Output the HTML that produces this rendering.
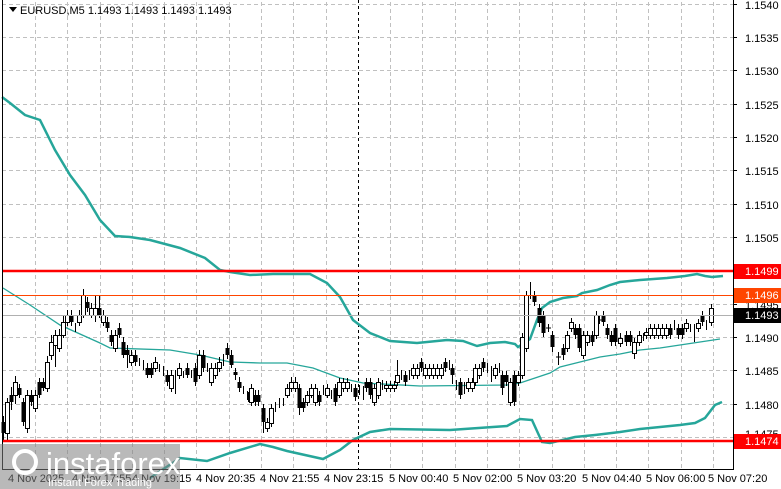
<!DOCTYPE html>
<html><head><meta charset="utf-8"><style>
body{margin:0;width:781px;height:489px;background:#fff;overflow:hidden;font-family:"Liberation Sans",sans-serif}
svg{position:absolute;left:0;top:0}
</style></head><body>
<svg width="781" height="489" xmlns="http://www.w3.org/2000/svg" font-family="Liberation Sans, sans-serif" font-size="11">
<g stroke="#c0c0c0" stroke-dasharray="4,3" stroke-width="1">
<path d="M2,4.5H733M2,37.5H733M2,70.5H733M2,104.5H733M2,137.5H733M2,170.5H733M2,204.5H733M2,237.5H733M2,270.5H733M2,304.5H733M2,337.5H733M2,370.5H733M2,404.5H733M2,437.5H733"/>
<path d="M35.5,2V469M67.5,2V469M100.5,2V469M132.5,2V469M164.5,2V469M196.5,2V469M229.5,2V469M261.5,2V469M293.5,2V469M326.5,2V469M390.5,2V469M422.5,2V469M455.5,2V469M487.5,2V469M519.5,2V469M552.5,2V469M584.5,2V469M616.5,2V469M648.5,2V469M681.5,2V469M713.5,2V469"/>
</g>
<line x1="358.5" y1="0" x2="358.5" y2="469" stroke="#000" stroke-dasharray="3,3"/>
<polyline fill="none" stroke="#26a69a" stroke-width="2.5" points="2,97 10,103 25,115 40,120 55,150 70,175 85,195 100,220 115,236 130,237 150,240 180,248 205,258 220,270 230,272 250,275 273,274 310,274 327,283 340,297 353,320 370,333 390,341 417,343 447,340 463,341 477,346 490,343 505,342 515,344 518,347 530,339 537,320 542,308 550,302 563,298 577,296 582,293 597,290 610,285 620,282 640,280 667,278 685,276 697,274 705,276 712,277 723,276"/>
<polyline fill="none" stroke="#26a69a" stroke-width="1.3" points="3,288 30,305 60,325 100,343 110,348 170,350 200,355 230,362 260,363 287,363 313,368 340,378 363,383 420,386 507,385 520,383 550,373 560,367 580,362 600,357 620,354 640,350 660,348 680,345 700,342 720,339"/>
<polyline fill="none" stroke="#26a69a" stroke-width="2.5" points="150,478 180,458 207,461 230,453 260,444 273,447 287,451 323,459 340,450 353,440 370,432 390,429 450,430 507,426 520,419 532,420 542,442 550,443 575,437 595,435 620,432 640,429 660,427 680,425 695,423 705,418 715,405 722,402"/>
<path fill="none" stroke="#000" stroke-width="1" d="M3.5,416V440M7.5,398V440M11.5,387V410M15.5,376V404M19.5,384V398M23.5,398V426M27.5,390V433M31.5,390V406M35.5,390V412M39.5,378V398M43.5,378V391M47.5,356V392M51.5,335V360M55.5,330V367M59.5,329V352M63.5,316V338M67.5,310V326M71.5,310V326M75.5,323V332M79.5,310V326M83.5,289V318M87.5,297V312M91.5,303V318M95.5,295V322M99.5,295V318M103.5,310V326M107.5,317V332M111.5,330V346M115.5,330V352M119.5,323V338M123.5,337V358M127.5,345V368M131.5,350V366M135.5,350V366M139.5,358V366M143.5,360V370M147.5,363V378M151.5,363V378M155.5,357V372M159.5,364V372M163.5,366V376M167.5,370V386M171.5,370V392M175.5,370V394M179.5,363V379M183.5,371V378M187.5,363V378M191.5,370V378M195.5,363V386M199.5,350V379M203.5,350V372M207.5,363V372M211.5,363V386M215.5,363V379M219.5,357V372M223.5,354V366M227.5,343V359M231.5,350V368M235.5,368V380M239.5,377V392M243.5,386V394M247.5,391V400M248.5,392V402M251.5,384V406M253.5,391V398M255.5,390V406M258.5,390V406M263.5,404V433M267.5,418V432M271.5,404V427M275.5,402V412M279.5,398V408M283.5,398V406M287.5,384V398M291.5,377V392M295.5,377V392M299.5,384V415M303.5,398V412M307.5,391V406M311.5,384V398M315.5,384V406M319.5,391V406M323.5,385V395M327.5,384V398M331.5,390V399M335.5,384V406M339.5,378V398M343.5,378V392M347.5,378V392M351.5,384V392M355.5,384V401M359.5,385V395M363.5,386V400M366.5,378V392M370.5,378V399M374.5,384V406M378.5,378V399M382.5,380V390M386.5,381V392M390.5,381V392M394.5,381V392M397.5,360V386M401.5,370V380M405.5,371V386M409.5,370V380M413.5,364V379M417.5,364V379M421.5,358V372M425.5,364V379M429.5,364V379M433.5,364V379M437.5,364V379M441.5,364V379M445.5,358V372M449.5,360V370M452.5,364V384M456.5,380V390M460.5,378V399M464.5,382V394M468.5,378V392M472.5,378V392M475.5,364V386M479.5,364V379M483.5,358V372M487.5,363V373M491.5,366V382M495.5,364V379M499.5,363V373M502.5,371V395M506.5,371V386M510.5,378V406M514.5,371V406M518.5,371V386M522.5,333V379M526.5,291V352M530.5,282V299M534.5,291V306M539.5,304V327M543.5,311V337M548.5,324V332M552.5,331V352M558.5,352V365M563.5,344V360M567.5,331V352M571.5,318V332M575.5,324V339M579.5,324V352M583.5,331V359M587.5,331V346M592.5,331V346M596.5,311V339M599.5,316V324M603.5,311V326M607.5,324V339M611.5,331V346M615.5,324V346M620.5,333V347M626.5,331V346M630.5,331V346M634.5,338V359M639.5,331V346M643.5,333V341M646.5,328V339M650.5,324V339M654.5,324V339M658.5,324V339M662.5,324V339M666.5,324V339M670.5,324V339M674.5,320V330M678.5,324V339M682.5,324V339M686.5,319V332M690.5,324V332M694.5,324V342M698.5,319V332M702.5,311V326M706.5,320V330M711.5,304V326M546,328h5M556,357h5M597,320h5"/>
<path fill="#000" d="M1.5,422h4v11h-4zM9.5,395h4v7h-4zM17.5,388h4v7h-4zM21.5,402h4v20h-4zM29.5,395h4v7h-4zM37.5,382h4v13h-4zM41.5,382h4v6h-4zM69.5,315h4v7h-4zM85.5,302h4v6h-4zM97.5,308h4v7h-4zM105.5,322h4v6h-4zM109.5,335h4v7h-4zM117.5,328h4v7h-4zM121.5,342h4v13h-4zM125.5,350h4v5h-4zM133.5,355h4v7h-4zM145.5,368h4v7h-4zM149.5,368h4v7h-4zM165.5,375h4v7h-4zM185.5,368h4v7h-4zM193.5,368h4v14h-4zM201.5,355h4v13h-4zM225.5,348h4v7h-4zM229.5,355h4v10h-4zM233.5,372h4v3h-4zM237.5,382h4v6h-4zM253.5,395h4v7h-4zM256.5,395h4v7h-4zM261.5,408h4v14h-4zM297.5,388h4v20h-4zM301.5,402h4v6h-4zM317.5,395h4v7h-4zM333.5,388h4v14h-4zM353.5,388h4v9h-4zM364.5,382h4v6h-4zM368.5,382h4v13h-4zM403.5,375h4v7h-4zM419.5,362h4v6h-4zM443.5,362h4v6h-4zM450.5,368h4v7h-4zM458.5,382h4v13h-4zM481.5,362h4v6h-4zM500.5,375h4v13h-4zM504.5,375h4v7h-4zM512.5,375h4v27h-4zM532.5,295h4v7h-4zM537.5,308h4v15h-4zM541.5,315h4v18h-4zM550.5,335h4v12h-4zM561.5,348h4v7h-4zM573.5,328h4v7h-4zM577.5,328h4v20h-4zM590.5,335h4v7h-4zM601.5,315h4v7h-4zM605.5,328h4v7h-4zM609.5,335h4v7h-4zM613.5,328h4v14h-4zM624.5,335h4v7h-4zM628.5,335h4v7h-4zM668.5,328h4v7h-4zM676.5,328h4v7h-4zM680.5,328h4v7h-4zM700.5,315h4v7h-4z"/>
<path fill="#fff" stroke="#000" stroke-width="1" d="M5.5,402.5h4v31h-4zM13.5,382.5h4v13h-4zM25.5,395.5h4v33h-4zM33.5,395.5h4v13h-4zM45.5,362.5h4v26h-4zM49.5,342.5h4v13h-4zM53.5,335.5h4v10h-4zM57.5,335.5h4v13h-4zM61.5,322.5h4v13h-4zM65.5,315.5h4v7h-4zM77.5,315.5h4v7h-4zM81.5,295.5h4v20h-4zM89.5,308.5h4v7h-4zM93.5,308.5h4v7h-4zM101.5,315.5h4v7h-4zM113.5,335.5h4v13h-4zM129.5,355.5h4v7h-4zM153.5,362.5h4v6h-4zM169.5,375.5h4v13h-4zM177.5,368.5h4v7h-4zM197.5,355.5h4v20h-4zM209.5,368.5h4v14h-4zM213.5,368.5h4v7h-4zM217.5,362.5h4v6h-4zM249.5,388.5h4v14h-4zM265.5,422.5h4v6h-4zM269.5,408.5h4v15h-4zM285.5,388.5h4v7h-4zM289.5,382.5h4v6h-4zM293.5,382.5h4v6h-4zM305.5,395.5h4v7h-4zM309.5,388.5h4v7h-4zM313.5,388.5h4v14h-4zM325.5,388.5h4v7h-4zM337.5,382.5h4v13h-4zM341.5,382.5h4v6h-4zM345.5,382.5h4v6h-4zM372.5,388.5h4v14h-4zM376.5,382.5h4v13h-4zM384.5,385.5h4v3h-4zM388.5,385.5h4v3h-4zM392.5,385.5h4v3h-4zM395.5,375.5h4v7h-4zM411.5,368.5h4v7h-4zM415.5,368.5h4v7h-4zM423.5,368.5h4v7h-4zM427.5,368.5h4v7h-4zM431.5,368.5h4v7h-4zM435.5,368.5h4v7h-4zM439.5,368.5h4v7h-4zM466.5,382.5h4v6h-4zM470.5,382.5h4v6h-4zM473.5,368.5h4v14h-4zM477.5,368.5h4v7h-4zM493.5,368.5h4v7h-4zM508.5,382.5h4v20h-4zM516.5,375.5h4v7h-4zM520.5,337.5h4v38h-4zM524.5,295.5h4v53h-4zM565.5,335.5h4v13h-4zM569.5,322.5h4v6h-4zM581.5,335.5h4v20h-4zM585.5,335.5h4v7h-4zM594.5,315.5h4v20h-4zM618.5,338.5h4v5h-4zM632.5,342.5h4v11h-4zM637.5,335.5h4v7h-4zM644.5,332.5h4v3h-4zM648.5,328.5h4v7h-4zM652.5,328.5h4v7h-4zM656.5,328.5h4v7h-4zM660.5,328.5h4v7h-4zM664.5,328.5h4v7h-4zM684.5,323.5h4v5h-4zM696.5,323.5h4v5h-4zM709.5,308.5h4v14h-4z"/>
<line x1="2" y1="271" x2="733" y2="271" stroke="#ff0000" stroke-width="2.5"/>
<line x1="2" y1="441" x2="733" y2="441" stroke="#ff0000" stroke-width="2.5"/>
<line x1="2" y1="295.5" x2="733" y2="295.5" stroke="#ff4500" stroke-width="1"/>
<line x1="2" y1="315.5" x2="733" y2="315.5" stroke="#b0b0b0" stroke-width="1"/>
<line x1="2.5" y1="0" x2="2.5" y2="469" stroke="#000"/>
<line x1="2" y1="469.5" x2="734" y2="469.5" stroke="#000"/>
<line x1="733.5" y1="0" x2="733.5" y2="470" stroke="#000"/>
<g fill="#000">
<text x="745" y="9">1.1540</text><text x="745" y="42">1.1535</text><text x="745" y="75">1.1530</text><text x="745" y="109">1.1525</text><text x="745" y="142">1.1520</text><text x="745" y="175">1.1515</text><text x="745" y="209">1.1510</text><text x="745" y="242">1.1505</text><text x="745" y="309">1.1495</text><text x="745" y="342">1.1490</text><text x="745" y="375">1.1485</text><text x="745" y="409">1.1480</text><text x="745" y="438">1.1475</text>
<path stroke="#000" d="M733,4.5h4M733,37.5h4M733,70.5h4M733,104.5h4M733,137.5h4M733,170.5h4M733,204.5h4M733,237.5h4M733,270.5h4M733,304.5h4M733,337.5h4M733,370.5h4M733,404.5h4M733,437.5h4"/>
<text x="8" y="482">4 Nov 2025</text><text x="72" y="482">4 Nov 17:55</text><text x="132" y="482">4 Nov 19:15</text><text x="196" y="482">4 Nov 20:35</text><text x="260" y="482">4 Nov 21:55</text><text x="324" y="482">4 Nov 23:15</text><text x="389" y="482">5 Nov 00:40</text><text x="453" y="482">5 Nov 02:00</text><text x="517" y="482">5 Nov 03:20</text><text x="582" y="482">5 Nov 04:40</text><text x="646" y="482">5 Nov 06:00</text><text x="708" y="482">5 Nov 07:20</text>
</g>
<rect x="734" y="264" width="47" height="15" fill="#ff0000"/><text x="745" y="275" fill="#fff">1.1499</text>
<rect x="734" y="288" width="47" height="15" fill="#ff4500"/><text x="745" y="299" fill="#fff">1.1496</text>
<rect x="734" y="308" width="47" height="15" fill="#000"/><text x="745" y="319" fill="#fff">1.1493</text>
<rect x="734" y="434" width="47" height="15" fill="#ff0000"/><text x="745" y="445" fill="#fff">1.1474</text>
<path d="M9 7 L17 7 L13 12 Z" fill="#000"/>
<text x="20" y="14" fill="#000">EURUSD,M5  1.1493 1.1493 1.1493 1.1493</text>
<rect x="0" y="444" width="180" height="45" fill="#808080" opacity="0.55"/>
<circle cx="25" cy="462" r="11" fill="none" stroke="#fff" stroke-width="4"/>
<text x="46" y="474" fill="#fff" font-size="31">instaforex</text>
<text x="48" y="486" fill="#fff" font-size="11">Instant Forex Trading</text>
</svg>
</body></html>
